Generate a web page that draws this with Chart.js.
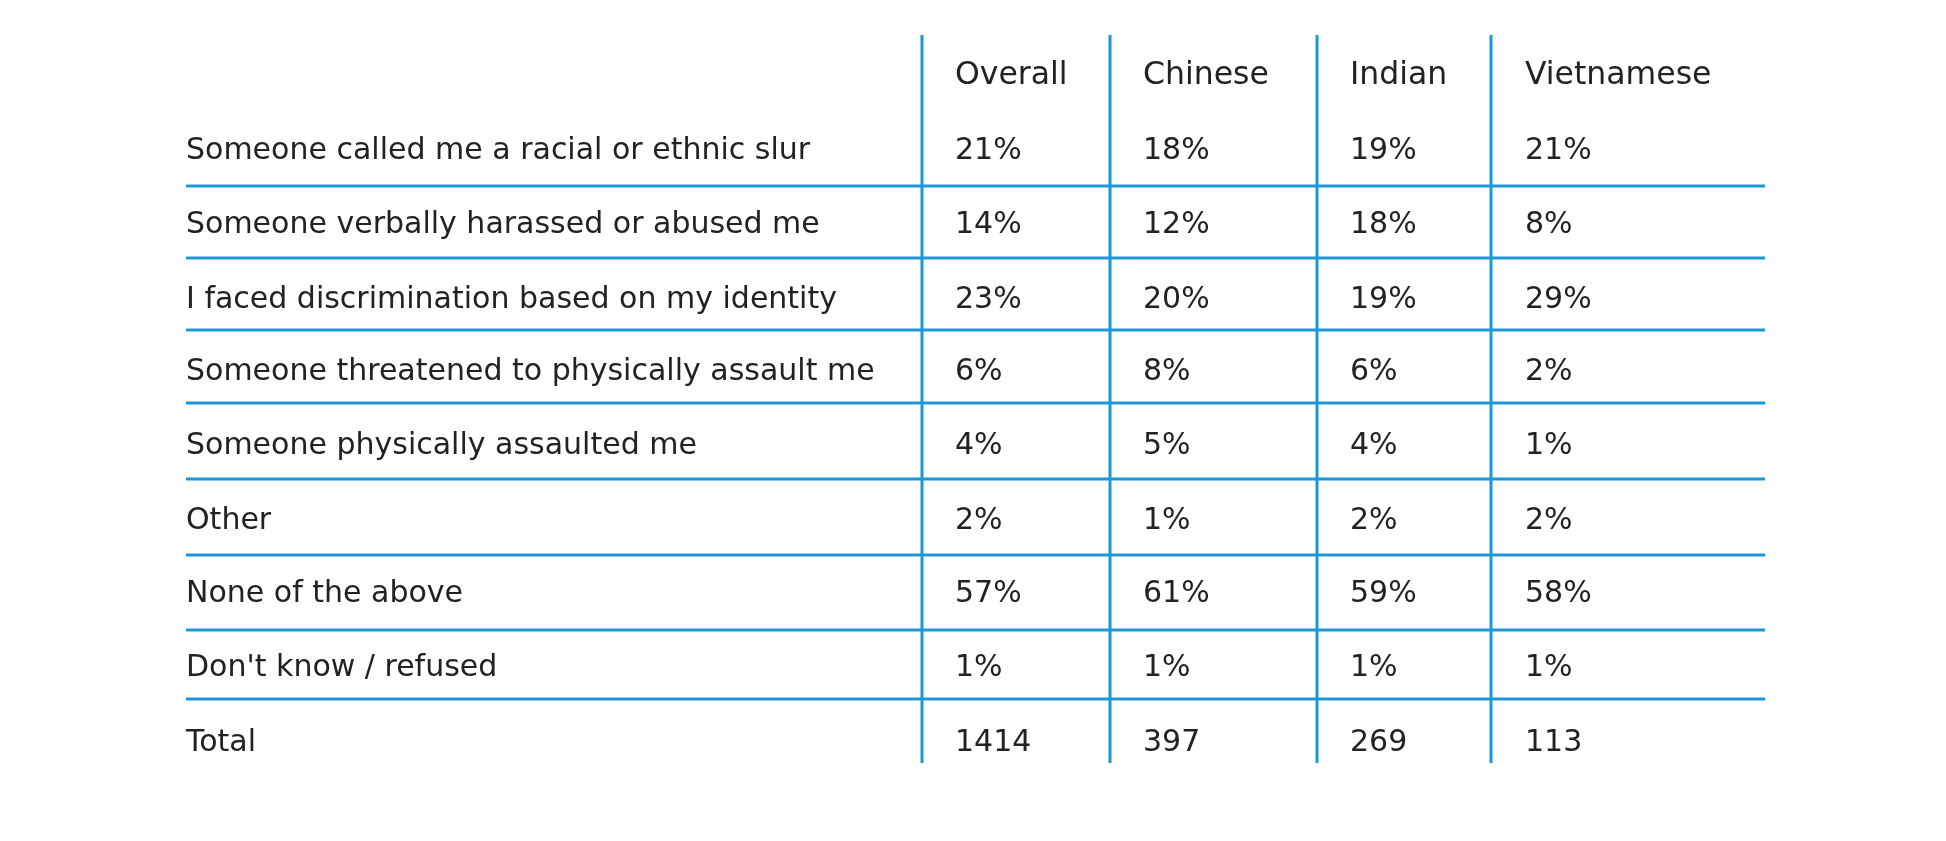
<!DOCTYPE html>
<html>
<head>
<meta charset="utf-8">
<script src="https://cdn.jsdelivr.net/npm/chart.js@4"></script>
<style>
  html, body { margin: 0; padding: 0; background: #fff; }
  #wrap { width: 1946px; height: 841px; }
</style>
</head>
<body>
<div id="wrap"><canvas id="myChart"></canvas></div>
<script>
const columns = ['Overall', 'Chinese', 'Indian', 'Vietnamese'];
const rowLabels = [
  'Someone called me a racial or ethnic slur',
  'Someone verbally harassed or abused me',
  'I faced discrimination based on my identity',
  'Someone threatened to physically assault me',
  'Someone physically assaulted me',
  'Other',
  'None of the above',
  "Don't know / refused",
  'Total'
];
const overall = ['21%', '14%', '23%', '6%', '4%', '2%', '57%', '1%', '1414'];
const chinese = ['18%', '12%', '20%', '8%', '5%', '1%', '61%', '1%', '397'];
const indian = ['19%', '18%', '19%', '6%', '4%', '2%', '59%', '1%', '269'];
const vietnamese = ['21%', '8%', '29%', '2%', '1%', '2%', '58%', '1%', '113'];

// layout in page pixels (scales run 0..width, 0..height)
const labelX = 186;
const colX = [955, 1143, 1350, 1525];
const headerY = 76;
const rowY = [151, 225, 300, 372, 446, 521, 594, 668, 743];
const hLineY = [186, 258, 330, 403, 479, 555, 630, 699];
const vLineX = [922, 1110, 1317, 1491];
const lineBlue = '#1b97d9';
const fontFamily = '"DejaVu Sans"';

const lineSets = [];
hLineY.forEach(y => lineSets.push({ data: [{x: 186, y: y}, {x: 1765, y: y}] }));
vLineX.forEach(x => lineSets.push({ data: [{x: x, y: 35}, {x: x, y: 763}] }));
lineSets.forEach(d => {
  d.showLine = true;
  d.borderColor = lineBlue;
  d.borderWidth = 3;
  d.pointRadius = 0;
});

const tableText = {
  id: 'tableText',
  afterDatasetsDraw(chart) {
    const ctx = chart.ctx;
    const xs = chart.scales.x, ys = chart.scales.y;
    const cols = [overall, chinese, indian, vietnamese];
    ctx.save();
    // fit the longest label to its width in the reference
    ctx.font = '20px ' + fontFamily;
    const w = ctx.measureText(rowLabels[3]).width;
    const size = Math.min(30, 20 * 712 / w);
    ctx.fillStyle = '#222';
    ctx.textBaseline = 'middle';
    ctx.textAlign = 'left';
    ctx.font = (size * 1.05).toFixed(1) + 'px ' + fontFamily;
    columns.forEach((c, i) => ctx.fillText(c, xs.getPixelForValue(colX[i]), ys.getPixelForValue(headerY)));
    ctx.font = size.toFixed(1) + 'px ' + fontFamily;
    rowLabels.forEach((r, j) => {
      const y = ys.getPixelForValue(rowY[j]);
      ctx.fillText(r, xs.getPixelForValue(labelX), y);
      cols.forEach((col, i) => ctx.fillText(col[j], xs.getPixelForValue(colX[i]), y));
    });
    ctx.restore();
  }
};

new Chart(document.getElementById('myChart'), {
  type: 'scatter',
  data: { datasets: lineSets },
  options: {
    responsive: true,
    maintainAspectRatio: false,
    animation: false,
    layout: { padding: 0 },
    plugins: { legend: { display: false }, tooltip: { enabled: false } },
    scales: {
      x: { type: 'linear', min: 0, max: 1946, display: false },
      y: { type: 'linear', min: 0, max: 841, reverse: true, display: false }
    }
  },
  plugins: [tableText]
});
</script>
</body>
</html>
